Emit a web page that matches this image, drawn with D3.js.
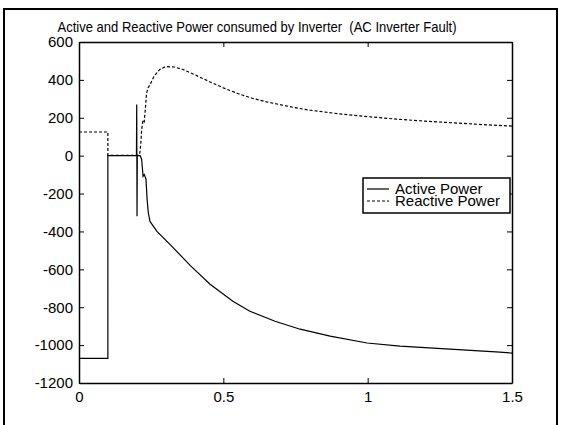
<!DOCTYPE html>
<html>
<head>
<meta charset="utf-8">
<script src="https://cdn.jsdelivr.net/npm/d3@7"></script>
<style>
  html, body { margin: 0; padding: 0; background: #fff; }
  svg { display: block; font-family: "Liberation Sans", Arial, sans-serif; }
</style>
</head>
<body>
<svg id="chart" width="562" height="425"></svg>
<script>
// Active power (solid) samples: time in s, power
const activeTime = [0, 0.1, 0.1, 0.199, 0.2, 0.201, 0.202, 0.212, 0.217, 0.222, 0.226, 0.232,
  0.236, 0.24, 0.246, 0.27, 0.315, 0.385, 0.454, 0.533, 0.592, 0.679, 0.766, 0.87, 0.998,
  1.112, 1.285, 1.458, 1.5];
const activePower = [-1070, -1070, 0, 0, 270, -320, 0, 0, -20, -109, -100, -123,
  -232, -300, -347, -400, -468, -579, -679, -768, -821, -874, -916, -953, -989,
  -1005, -1021, -1037, -1042];

// Reactive power (dashed) samples
const reactiveTime = [0, 0.1, 0.1, 0.205, 0.21, 0.214, 0.217, 0.222, 0.226, 0.23, 0.234,
  0.24, 0.246, 0.26, 0.28, 0.3, 0.33, 0.36, 0.4, 0.45, 0.5, 0.55, 0.6, 0.65, 0.7, 0.76,
  0.8, 0.9, 1.0, 1.1, 1.2, 1.3, 1.4, 1.5];
const reactivePower = [125, 125, 2, 2, 5, 60, 137, 189, 180, 250, 330, 360, 374, 420,
  455, 470, 468, 455, 428, 392, 358, 328, 303, 284, 268, 250, 240, 221, 206, 193, 182,
  173, 164, 156];

const xTicks = [0, 0.5, 1, 1.5];
const yTicks = [600, 400, 200, 0, -200, -400, -600, -800, -1000, -1200];
const legendLabels = ["Active Power", "Reactive Power"];
const titleText = "Active and Reactive Power consumed by Inverter  (AC Inverter Fault)";

const svg = d3.select("#chart");

// Figure frame
svg.append("rect")
  .attr("x", 4)
  .attr("y", 9)
  .attr("width", 553)
  .attr("height", 430)
  .attr("fill", "none")
  .attr("stroke", "#000")
  .attr("stroke-width", 2);

const plot = { left: 79, top: 42, right: 512, bottom: 383 };

const x = d3.scaleLinear().domain([0, 1.5]).range([plot.left, plot.right]);
const y = d3.scaleLinear().domain([-1200, 600]).range([plot.bottom, plot.top]);

// plain hyphen for negatives
const plain = (d) => String(d);

// Axes box with inward ticks on all four sides
svg.append("g")
  .attr("transform", `translate(0,${plot.bottom})`)
  .call(d3.axisBottom(x).tickValues(xTicks).tickFormat(plain).tickSizeInner(-5).tickSizeOuter(0).tickPadding(8));
svg.append("g")
  .attr("transform", `translate(0,${plot.top})`)
  .call(d3.axisTop(x).tickValues(xTicks).tickFormat("").tickSizeInner(-5).tickSizeOuter(0));
svg.append("g")
  .attr("transform", `translate(${plot.left},0)`)
  .call(d3.axisLeft(y).tickValues(yTicks).tickFormat(plain).tickSizeInner(-5).tickSizeOuter(0).tickPadding(6));
svg.append("g")
  .attr("transform", `translate(${plot.right},0)`)
  .call(d3.axisRight(y).tickValues(yTicks).tickFormat("").tickSizeInner(-5).tickSizeOuter(0));

svg.selectAll(".domain").attr("stroke-width", 1.5);
svg.selectAll(".tick line").attr("stroke-width", 1);
svg.selectAll(".tick text").attr("font-size", 15).attr("fill", "#000")
  .style("font-family", "'Liberation Sans', Arial, sans-serif");

// Title
svg.append("text")
  .attr("x", 257)
  .attr("y", 32)
  .attr("text-anchor", "middle")
  .attr("font-size", 14.5)
  .attr("textLength", 399)
  .attr("lengthAdjust", "spacingAndGlyphs")
  .attr("xml:space", "preserve")
  .style("white-space", "pre")
  .text(titleText);

const line = d3.line()
  .x((d) => x(d[0]))
  .y((d) => y(d[1]));

const activeData = activeTime.map((t, i) => [t, activePower[i]]);
const reactiveData = reactiveTime.map((t, i) => [t, reactivePower[i]]);

svg.append("path")
  .datum(reactiveData)
  .attr("d", line)
  .attr("fill", "none")
  .attr("stroke", "#000")
  .attr("stroke-width", 1.2)
  .attr("stroke-dasharray", "3,2");

svg.append("path")
  .datum(activeData)
  .attr("d", line)
  .attr("fill", "none")
  .attr("stroke", "#000")
  .attr("stroke-width", 1.2);

// Legend box
const legend = svg.append("g").attr("transform", "translate(363,178)");
legend.append("rect")
  .attr("width", 147)
  .attr("height", 35)
  .attr("fill", "#fff")
  .attr("stroke", "#000")
  .attr("stroke-width", 1.5);

legendLabels.forEach((label, i) => {
  const ly = 11 + i * 12;
  legend.append("line")
    .attr("x1", 4)
    .attr("x2", 26)
    .attr("y1", ly)
    .attr("y2", ly)
    .attr("stroke", "#000")
    .attr("stroke-width", 1.2)
    .attr("stroke-dasharray", i === 0 ? null : "3,2");
  legend.append("text")
    .attr("x", 32)
    .attr("y", ly + 5)
    .attr("font-size", 15)
    .text(label);
});
</script>
</body>
</html>
